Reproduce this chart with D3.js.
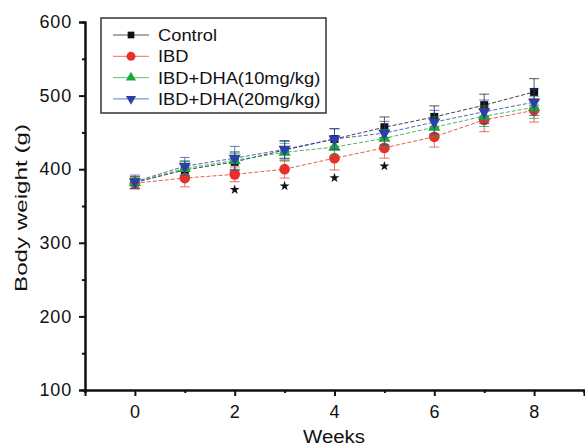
<!DOCTYPE html>
<html>
<head>
<meta charset="utf-8">
<script src="https://cdn.jsdelivr.net/npm/d3@7"></script>
<style>
  body { margin: 0; background: #fff; }
  text { font-family: "Liberation Sans", Arial, sans-serif; }
</style>
</head>
<body>
<svg width="585" height="446"></svg>
<script>
// data
let weeks = [0, 1, 2, 3, 4, 5, 6, 7, 8]
let seriesNames = ["Control", "IBD", "IBD+DHA(10mg/kg)", "IBD+DHA(20mg/kg)"]
let control = [382, 399, 410, 426, 441, 457, 471, 487, 505]
let ibd = [381, 388, 393, 400, 415, 429, 444, 467, 480]
let dha10 = [382, 401, 412, 423, 430, 442, 457, 472, 484]
let dha20 = [383, 404, 415, 427, 441, 449, 464, 478, 491]
let controlErr = [8, 12, 12, 12, 14, 14, 15, 15, 18]
let ibdErr = [8, 12, 10, 12, 16, 14, 14, 16, 16]
let dha10Err = [8, 10, 12, 12, 12, 12, 14, 14, 15]
let dha20Err = [9, 12, 16, 12, 14, 16, 16, 16, 18]
let starWeeks = [2, 3, 4, 5]
let yTicks = [100, 200, 300, 400, 500, 600]
let xTicks = [0, 2, 4, 6, 8]

let svg = d3.select("svg")

let x = d3.scaleLinear().domain([-1, 9]).range([85, 584])
let y = d3.scaleLinear().domain([100, 600]).range([390, 22])

let colors = ["#111111", "#e8302a", "#18a83a", "#2a40a8"]
let allValues = [control, ibd, dha10, dha20]
let allErrs = [controlErr, ibdErr, dha10Err, dha20Err]
let symbols = [d3.symbolSquare, d3.symbolCircle, d3.symbolTriangle, d3.symbolTriangle]
let symbolSizes = [64, 90, 64, 64]
let rotations = [0, 0, 0, 180]

// axes
let yAxis = svg.append("g").attr("transform", "translate(85,0)")
yAxis.call(d3.axisLeft(y).tickValues(yTicks).tickSize(6).tickPadding(7))
yAxis.append("g").call(d3.axisLeft(y).tickValues([150, 250, 350, 450, 550]).tickSize(3).tickFormat(""))
let xAxis = svg.append("g").attr("transform", "translate(0,390)")
xAxis.call(d3.axisBottom(x).tickValues(xTicks).tickSize(6).tickPadding(9))
xAxis.append("g").call(d3.axisBottom(x).tickValues([-1, 1, 3, 5, 7, 9]).tickSize(3).tickFormat(""))

svg.selectAll(".domain").attr("stroke", "#111").attr("stroke-width", 2)
svg.selectAll(".tick line").attr("stroke", "#111").attr("stroke-width", 2)
svg.selectAll(".tick text")
  .style("font-size", "18px")
  .style("letter-spacing", "0.8px")
  .attr("fill", "#111")

svg.append("text")
  .attr("transform", "translate(27,208) rotate(-90)")
  .attr("text-anchor", "middle")
  .attr("textLength", 168)
  .attr("lengthAdjust", "spacingAndGlyphs")
  .style("font-size", "16.5px")
  .attr("fill", "#111")
  .text("Body weight (g)")

svg.append("text")
  .attr("x", 334)
  .attr("y", 443)
  .attr("text-anchor", "middle")
  .attr("textLength", 62)
  .attr("lengthAdjust", "spacingAndGlyphs")
  .style("font-size", "18px")
  .attr("fill", "#111")
  .text("Weeks")

// series
for (let s = 0; s < 4; s++) {
  let vals = allValues[s]
  let errs = allErrs[s]
  let g = svg.append("g")

  g.append("path")
    .datum(weeks)
    .attr("d", d3.line().x(w => x(w)).y((w, i) => y(vals[i])))
    .attr("fill", "none")
    .attr("stroke", colors[s])
    .attr("stroke-width", 1)
    .attr("stroke-dasharray", "4,2")
    .attr("opacity", 0.8)

  weeks.forEach((w, i) => {
    let cx = x(w)
    g.append("line")
      .attr("x1", cx).attr("x2", cx)
      .attr("y1", y(vals[i] - errs[i])).attr("y2", y(vals[i] + errs[i]))
      .attr("stroke", colors[s]).attr("stroke-width", 1).attr("opacity", 0.7)
    for (let e of [-1, 1]) {
      g.append("line")
        .attr("x1", cx - 5).attr("x2", cx + 5)
        .attr("y1", y(vals[i] + e * errs[i])).attr("y2", y(vals[i] + e * errs[i]))
        .attr("stroke", colors[s]).attr("stroke-width", 1).attr("opacity", 0.7)
    }
  })

  g.selectAll("path.mark")
    .data(weeks)
    .join("path")
    .attr("class", "mark")
    .attr("d", d3.symbol(symbols[s], symbolSizes[s]))
    .attr("transform", (w, i) => `translate(${x(w)},${y(vals[i])}) rotate(${rotations[s]})`)
    .attr("fill", colors[s])
}

// significance stars under IBD
svg.selectAll("path.star")
  .data(starWeeks)
  .join("path")
  .attr("class", "star")
  .attr("d", d3.symbol(d3.symbolStar, 30))
  .attr("transform", w => `translate(${x(w)},${y(ibd[w] - ibdErr[w]) + 8})`)
  .attr("fill", "#111")

// legend
let legend = svg.append("g")
legend.append("rect")
  .attr("x", 101).attr("y", 18)
  .attr("width", 225).attr("height", 95)
  .attr("fill", "white")
  .attr("stroke", "#333")
  .attr("stroke-width", 1.5)

seriesNames.forEach((name, s) => {
  let ly = 35 + s * 21.3
  legend.append("line")
    .attr("x1", 113).attr("x2", 149)
    .attr("y1", ly).attr("y2", ly)
    .attr("stroke", colors[s]).attr("stroke-width", 1).attr("opacity", 0.7)
  legend.append("path")
    .attr("d", d3.symbol(symbols[s], symbolSizes[s] * 0.7))
    .attr("transform", `translate(131,${ly}) rotate(${rotations[s]})`)
    .attr("fill", colors[s])
  legend.append("text")
    .attr("transform", `translate(158,${ly + 6}) scale(1.11,1)`)
    .style("font-size", "16.5px")
    .attr("fill", "#111")
    .text(name)
})
</script>
</body>
</html>
